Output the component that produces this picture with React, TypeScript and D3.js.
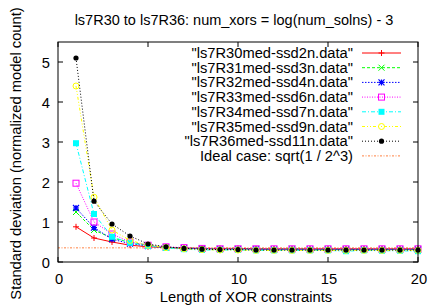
import React from 'react';
import * as d3 from 'd3';

const xs = d3.range(1, 21);

const seriesNames = [
  '"ls7R30med-ssd2n.data"',
  '"ls7R31med-ssd3n.data"',
  '"ls7R32med-ssd4n.data"',
  '"ls7R33med-ssd6n.data"',
  '"ls7R34med-ssd7n.data"',
  '"ls7R35med-ssd9n.data"',
  '"ls7R36med-ssd11n.data"',
];

const r30 = [0.88, 0.6, 0.5, 0.42, 0.38, 0.36, 0.35, 0.34, 0.34, 0.34, 0.33, 0.33, 0.33, 0.33, 0.33, 0.33, 0.33, 0.33, 0.33, 0.33];
const r31 = [1.25, 0.8, 0.6, 0.5, 0.42, 0.37, 0.35, 0.34, 0.33, 0.33, 0.33, 0.32, 0.33, 0.32, 0.32, 0.32, 0.32, 0.32, 0.32, 0.32];
const r32 = [1.35, 0.86, 0.57, 0.46, 0.4, 0.36, 0.34, 0.33, 0.32, 0.32, 0.32, 0.31, 0.31, 0.31, 0.31, 0.31, 0.31, 0.31, 0.31, 0.31];
const r33 = [1.97, 1.0, 0.7, 0.5, 0.42, 0.38, 0.36, 0.34, 0.33, 0.33, 0.33, 0.33, 0.33, 0.33, 0.33, 0.33, 0.33, 0.33, 0.33, 0.33];
const r34 = [2.97, 1.2, 0.63, 0.48, 0.4, 0.35, 0.32, 0.3, 0.3, 0.3, 0.29, 0.29, 0.29, 0.29, 0.29, 0.27, 0.29, 0.28, 0.28, 0.27];
const r35 = [4.4, 1.62, 0.8, 0.54, 0.42, 0.36, 0.33, 0.31, 0.3, 0.3, 0.29, 0.29, 0.29, 0.29, 0.29, 0.29, 0.29, 0.29, 0.29, 0.29];
const r36 = [5.1, 1.52, 0.95, 0.65, 0.45, 0.38, 0.34, 0.32, 0.31, 0.31, 0.3, 0.3, 0.3, 0.3, 0.3, 0.3, 0.3, 0.3, 0.3, 0.3];
const allSeries = [r30, r31, r32, r33, r34, r35, r36];

const idealValue = Math.sqrt(1 / 8);
const idealName = 'Ideal case: sqrt(1 / 2^3)';

const xTicks = [0, 5, 10, 15, 20];
const yTicks = [0, 1, 2, 3, 4, 5];

const colors = ['#ff0000', '#00ff00', '#0000ff', '#ff00ff', '#00ffff', '#ffff00', '#000000'];
const dashes = ['', '3,2', '1.5,1.5', '1,1.5', '4,2,1,2', '3,2,1,2,1,2', '1,2'];
const markers = ['plus', 'cross', 'star', 'osquare', 'fsquare', 'ocircle', 'fcircle'];
const idealColor = '#ff8040';

const W = 428;
const H = 308;
const m = { left: 58, right: 10, top: 42, bottom: 46 };

function Marker({ kind, x, y, color }: { kind: string; x: number; y: number; color: string }) {
  const s = 3;
  if (kind === 'plus')
    return <path d={`M${x - s},${y}H${x + s}M${x},${y - s}V${y + s}`} stroke={color} strokeWidth={1} />;
  if (kind === 'cross')
    return <path d={`M${x - s},${y - s}L${x + s},${y + s}M${x - s},${y + s}L${x + s},${y - s}`} stroke={color} strokeWidth={1} />;
  if (kind === 'star')
    return (
      <path
        d={`M${x - s},${y}H${x + s}M${x},${y - s}V${y + s}M${x - s},${y - s}L${x + s},${y + s}M${x - s},${y + s}L${x + s},${y - s}`}
        stroke={color}
        strokeWidth={1.2}
      />
    );
  if (kind === 'osquare')
    return <rect x={x - s} y={y - s} width={2 * s} height={2 * s} fill="none" stroke={color} strokeWidth={1} />;
  if (kind === 'fsquare')
    return <rect x={x - s} y={y - s} width={2 * s} height={2 * s} fill={color} />;
  if (kind === 'ocircle')
    return <circle cx={x} cy={y} r={s} fill="none" stroke={color} strokeWidth={1} />;
  return <circle cx={x} cy={y} r={2.6} fill={color} />;
}

export default function App() {
  const x = d3.scaleLinear().domain([0, 20]).range([m.left, W - m.right]);
  const y = d3.scaleLinear().domain([0, 5.5]).range([H - m.bottom, m.top]);
  const line = d3
    .line<number>()
    .x((_, i) => x(xs[i]))
    .y((d) => y(d));

  const font = 'Liberation Sans, Arial, sans-serif';
  const fs = 14.7;
  const legX = 353;
  const legY0 = 53;
  const legDy = 14.7;

  return (
    <div style={{ position: 'absolute', left: 0, top: 0 }}>
      <svg width={W} height={H} style={{ display: 'block' }} fontFamily={font}>
        <rect width={W} height={H} fill="#fff" />
        <text x={234} y={24.5} textAnchor="middle" fontSize={14.5}>
          ls7R30 to ls7R36: num_xors = log(num_solns) - 3
        </text>

        {/* ticks */}
        {xTicks.map((t) => (
          <g key={'x' + t}>
            <line x1={x(t)} x2={x(t)} y1={y(0)} y2={y(0) - 5} stroke="#000" />
            <line x1={x(t)} x2={x(t)} y1={m.top} y2={m.top + 5} stroke="#000" />
            <text x={x(t) + 1} y={y(0) + 21.5} textAnchor="middle" fontSize={fs}>
              {t}
            </text>
          </g>
        ))}
        {yTicks.map((t) => (
          <g key={'y' + t}>
            <line x1={m.left} x2={m.left + 5} y1={y(t)} y2={y(t)} stroke="#000" />
            <line x1={W - m.right} x2={W - m.right - 5} y1={y(t)} y2={y(t)} stroke="#000" />
            <text x={50} y={y(t) + 5.5} textAnchor="end" fontSize={fs}>
              {t}
            </text>
          </g>
        ))}

        {/* ideal */}
        <line
          x1={x(0)}
          x2={x(20)}
          y1={y(idealValue)}
          y2={y(idealValue)}
          stroke={idealColor}
          strokeWidth={1}
          strokeDasharray="2,1.5,1,1.5"
        />

        {allSeries.map((s, i) => (
          <g key={i}>
            <path d={line(s) || ''} fill="none" stroke={colors[i]} strokeWidth={1} strokeDasharray={dashes[i]} />
            {s.map((v, j) => (
              <Marker key={j} kind={markers[i]} x={x(xs[j])} y={y(v)} color={colors[i]} />
            ))}
          </g>
        ))}

        <rect
          x={m.left}
          y={m.top}
          width={W - m.left - m.right}
          height={H - m.top - m.bottom}
          fill="none"
          stroke="#000"
        />

        {/* legend */}
        {seriesNames.map((n, i) => {
          const ly = legY0 + i * legDy;
          return (
            <g key={n}>
              <text x={legX} y={ly + 5} textAnchor="end" fontSize={fs}>
                {n}
              </text>
              <line x1={362} x2={401} y1={ly} y2={ly} stroke={colors[i]} strokeDasharray={dashes[i]} />
              <Marker kind={markers[i]} x={381.5} y={ly} color={colors[i]} />
            </g>
          );
        })}
        <text x={legX} y={legY0 + 7 * legDy + 5} textAnchor="end" fontSize={fs}>
          {idealName}
        </text>
        <line
          x1={362}
          x2={401}
          y1={legY0 + 7 * legDy}
          y2={legY0 + 7 * legDy}
          stroke={idealColor}
          strokeDasharray="2,1.5,1,1.5"
        />

        <text x={246} y={302} textAnchor="middle" fontSize={fs}>
          Length of XOR constraints
        </text>
        <text transform={`translate(21,153.5) rotate(-90)`} textAnchor="middle" fontSize={fs}>
          Standard deviation (normalized model count)
        </text>
      </svg>
    </div>
  );
}
